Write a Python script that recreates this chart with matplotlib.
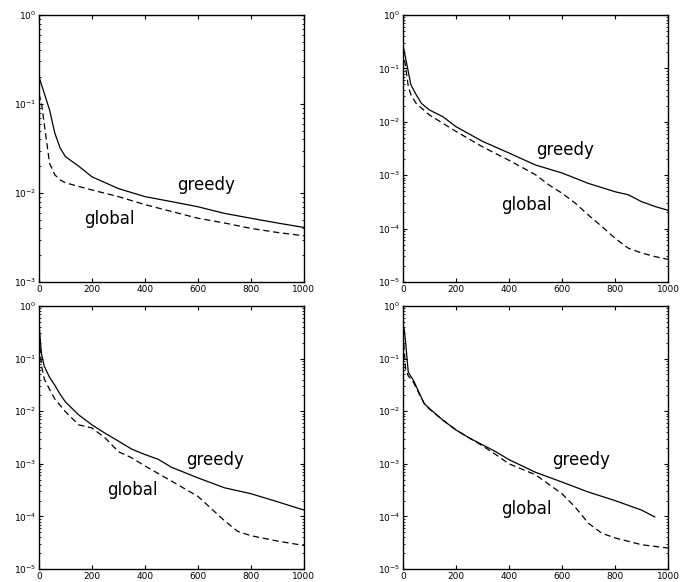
import numpy as np
import matplotlib
matplotlib.use("Agg")
import matplotlib.pyplot as plt

plt.rcParams['font.family'] = ['DejaVu Sans']
plt.rcParams['mathtext.fontset'] = 'dejavusans'

# ---- data ----
# top-left
tl_greedy_x = [0, 40, 60, 80, 100, 150, 200, 300, 400, 500, 600, 700, 800, 900, 1000]
tl_greedy_y = [0.203, 0.086, 0.047, 0.032, 0.0256, 0.020, 0.0152, 0.0112, 0.0091,
               0.0080, 0.0070, 0.0059, 0.0052, 0.0046, 0.0041]
tl_global_x = [0, 10, 30, 40, 60, 80, 100, 200, 300, 400, 500, 600, 700, 800, 900, 1000]
tl_global_y = [0.13, 0.10, 0.036, 0.0216, 0.016, 0.014, 0.013, 0.0108, 0.0091, 0.0074,
               0.0062, 0.0052, 0.0046, 0.0040, 0.0036, 0.0033]

# top-right
tr_greedy_x = [0, 10, 20, 30, 50, 70, 100, 150, 200, 300, 400, 500, 600, 700, 800,
               850, 900, 950, 1000]
tr_greedy_y = [0.275, 0.155, 0.087, 0.049, 0.032, 0.022, 0.0166, 0.0125, 0.0081, 0.0043,
               0.0026, 0.00155, 0.0011, 0.0007, 0.00049, 0.00043, 0.00032, 0.00026, 0.00022]
tr_global_x = [0, 10, 20, 30, 50, 100, 200, 300, 400, 500, 550, 600, 650, 700, 750,
               800, 850, 900, 950, 1000]
tr_global_y = [0.22, 0.107, 0.046, 0.032, 0.022, 0.0134, 0.0066, 0.0034, 0.0019, 0.00102,
               0.00066, 0.00046, 0.0003, 0.000178, 0.00011, 6.6e-5, 4.3e-5, 3.5e-5,
               3.0e-5, 2.65e-5]

# bottom-left
bl_greedy_x = [0, 5, 10, 20, 40, 60, 80, 100, 150, 200, 250, 300, 350, 400, 450, 500,
               600, 700, 800, 900, 1000]
bl_greedy_y = [0.5, 0.23, 0.12, 0.072, 0.044, 0.031, 0.021, 0.015, 0.0085, 0.0055, 0.0038,
               0.0027, 0.0019, 0.0015, 0.00122, 0.00086, 0.00054, 0.00035, 0.00027,
               0.00019, 0.000132]
bl_global_x = [0, 10, 20, 40, 60, 100, 150, 200, 250, 300, 350, 400, 500, 600, 700, 750,
               800, 900, 1000]
bl_global_y = [0.26, 0.072, 0.041, 0.026, 0.017, 0.0098, 0.0055, 0.0048, 0.0031, 0.0017,
               0.0013, 0.00091, 0.00047, 0.00024, 8.3e-5, 5.2e-5, 4.3e-5, 3.4e-5, 2.8e-5]

# bottom-right
br_greedy_x = [0, 5, 10, 20, 40, 60, 80, 100, 150, 200, 250, 300, 350, 400, 450, 500,
               600, 700, 800, 900, 950]
br_greedy_y = [0.45, 0.35, 0.2, 0.055, 0.038, 0.023, 0.014, 0.0112, 0.0068, 0.0044, 0.0031,
               0.0023, 0.0017, 0.0012, 0.00091, 0.00069, 0.00045, 0.00029, 0.0002,
               0.000132, 9.8e-5]
br_global_x = [0, 10, 20, 40, 60, 80, 100, 150, 200, 250, 300, 350, 400, 500, 600, 650,
               700, 750, 800, 900, 1000]
br_global_y = [0.3, 0.063, 0.047, 0.035, 0.022, 0.014, 0.011, 0.0068, 0.0044, 0.0031,
               0.0022, 0.0015, 0.001, 0.00062, 0.00027, 0.00015, 7.4e-5, 4.8e-5, 3.9e-5,
               2.9e-5, 2.5e-5]

panels = [
    (tl_greedy_x, tl_greedy_y, tl_global_x, tl_global_y, 1e-3, (629, 0.0123), (264, 0.0051)),
    (tr_greedy_x, tr_greedy_y, tr_global_x, tr_global_y, 1e-5, (612, 0.0029), (467, 0.000277)),
    (bl_greedy_x, bl_greedy_y, bl_global_x, bl_global_y, 1e-5, (664, 0.00117), (352, 0.00032)),
    (br_greedy_x, br_greedy_y, br_global_x, br_global_y, 1e-5, (672, 0.00117), (464, 0.00014)),
]
positions = [
    [0.057, 0.5155, 0.388, 0.4588],
    [0.590, 0.5155, 0.388, 0.4588],
    [0.057, 0.0223, 0.388, 0.452],
    [0.590, 0.0223, 0.388, 0.452],
]

fig = plt.figure(figsize=(6.83, 5.82), dpi=100)

for pos, (gx, gy, lx, ly, ymin, gtxt, ltxt) in zip(positions, panels):
    ax = fig.add_axes(pos)
    ax.semilogy(gx, gy, color='black', linewidth=0.9)
    ax.semilogy(lx, ly, color='black', linewidth=0.9, linestyle=(0, (5, 3)))
    ax.set_xlim(0, 1000)
    ax.set_ylim(ymin, 1)
    ax.set_xticks([0, 200, 400, 600, 800, 1000])
    ax.tick_params(which='both', direction='in', top=True, right=True,
                   labelsize=6.5, pad=2)
    ax.tick_params(which='major', length=3)
    ax.tick_params(which='minor', length=1.5)
    ax.yaxis.set_minor_locator(matplotlib.ticker.LogLocator(base=10, subs=np.arange(2, 10)))
    ax.yaxis.set_minor_formatter(matplotlib.ticker.NullFormatter())
    for s in ax.spines.values():
        s.set_linewidth(1.0)
    ax.text(gtxt[0], gtxt[1], 'greedy', fontsize=12, ha='center', va='center')
    ax.text(ltxt[0], ltxt[1], 'global', fontsize=12, ha='center', va='center')

fig.savefig('out.png', dpi=100)
